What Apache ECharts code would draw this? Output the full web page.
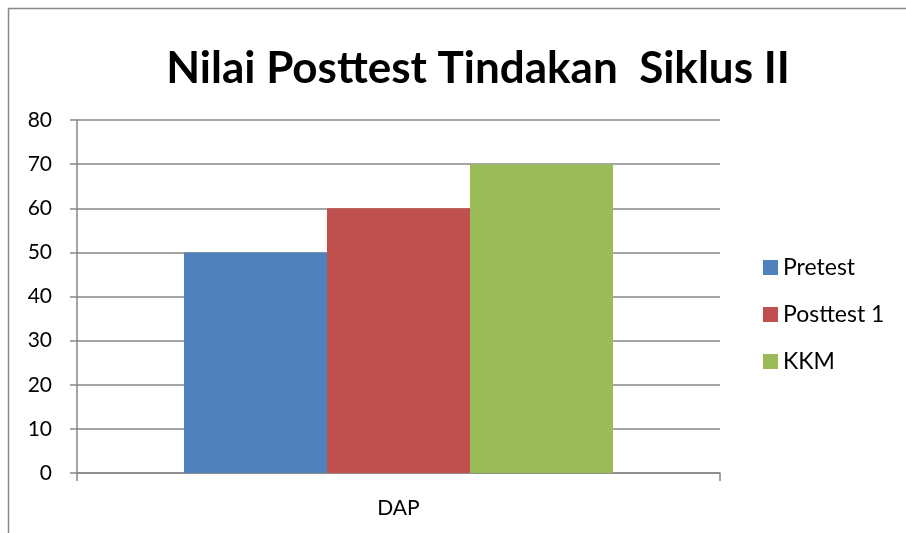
<!DOCTYPE html>
<html><head><meta charset="utf-8">
<script src="https://cdn.jsdelivr.net/npm/echarts@6/dist/echarts.min.js"></script>
<style>html,body{margin:0;padding:0;background:#fff}#c{width:906px;height:533px}</style>
</head><body><div id="c"></div>
<script>
const categories = ['DAP'];
const seriesNames = ['Pretest', 'Posttest 1', 'KKM'];
const pretest = [50];
const posttest1 = [60];
const kkm = [70];
const colors = ['#4F81BD', '#C0504D', '#9BBB59'];
const font = 'Lato, "Open Sans", sans-serif';

const chart = echarts.init(document.getElementById('c'), null, {renderer: 'canvas'});
const data = [pretest, posttest1, kkm];
chart.setOption({
  animation: false,
  graphic: [{type: 'rect', shape: {x: 8.5, y: 8.5, width: 1000, height: 1000}, style: {fill: null, stroke: '#878787', lineWidth: 1.5}, silent: true}],
  title: {text: 'Nilai Posttest Tindakan  Siklus II', left: 473, textAlign: 'center', top: 42,
    textStyle: {fontFamily: font, fontWeight: 'bold', fontSize: 44, color: '#000'}},
  grid: {left: 77, right: 186, top: 120, bottom: 60},
  legend: {orient: 'vertical', left: 758, top: 251, itemWidth: 15, itemHeight: 15, itemGap: 24,
    icon: 'rect', textStyle: {fontFamily: font, fontSize: 23, color: '#000'}},
  xAxis: {type: 'category', data: categories,
    axisLine: {lineStyle: {color: '#868686', width: 1.5}},
    axisTick: {show: true, length: 8, lineStyle: {color: '#868686', width: 1.5}},
    axisLabel: {fontFamily: font, fontSize: 21, color: '#000', margin: 25}},
  yAxis: {type: 'value', min: 0, max: 80, interval: 10,
    axisLine: {show: true, lineStyle: {color: '#868686', width: 1.5}},
    axisTick: {show: true, length: 7, lineStyle: {color: '#868686', width: 1.5}},
    splitLine: {lineStyle: {color: '#868686', width: 1.5}},
    axisLabel: {fontFamily: font, fontSize: 21, color: '#000', margin: 25}},
  series: seriesNames.map((n, i) => ({name: n, type: 'bar', data: data[i], barWidth: 143, barGap: '0%',
    itemStyle: {color: colors[i]}}))
});
</script></body></html>
